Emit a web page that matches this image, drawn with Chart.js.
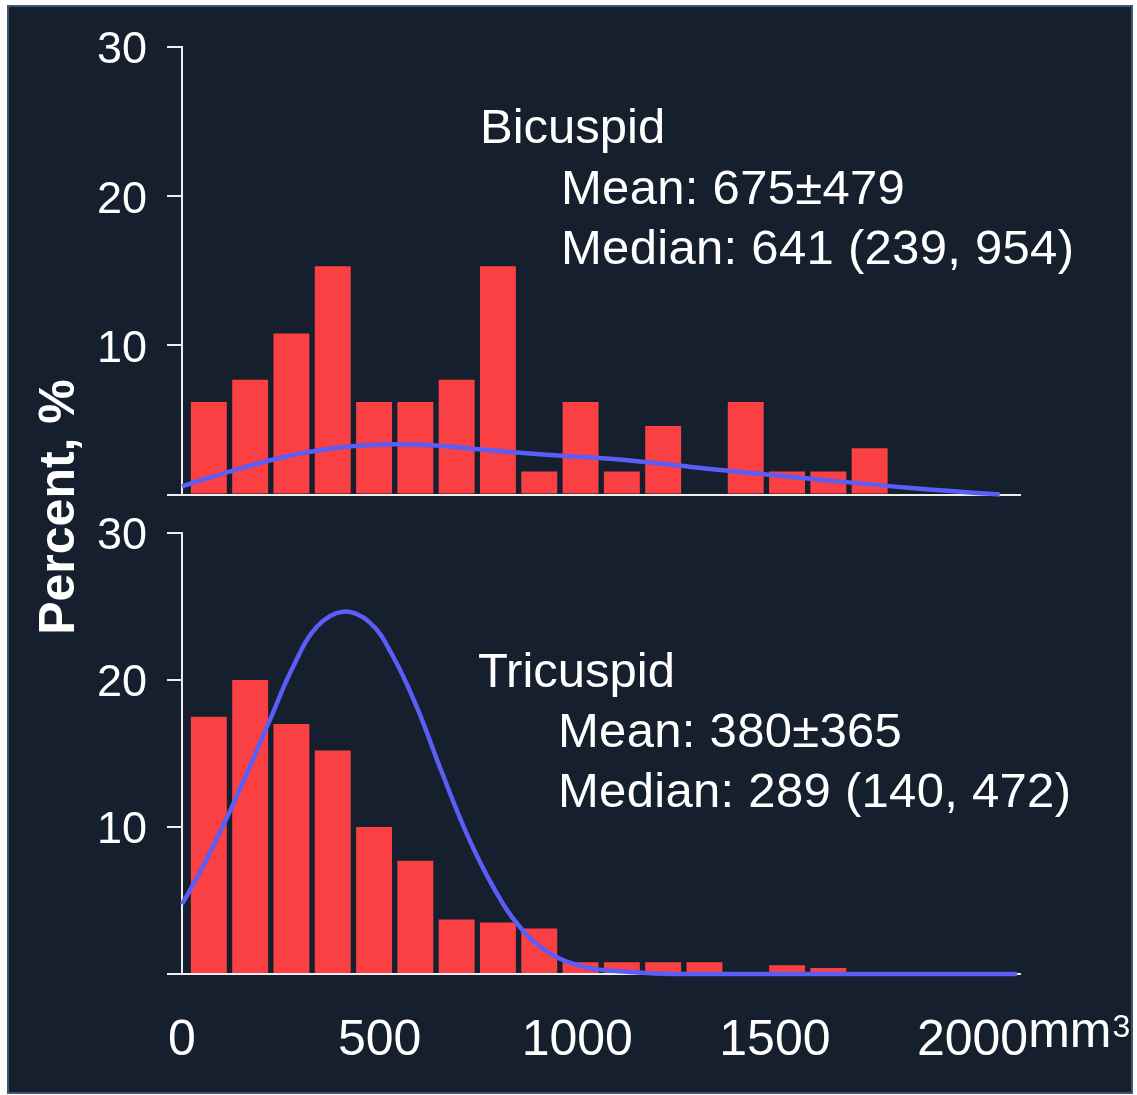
<!DOCTYPE html>
<html>
<head>
<meta charset="utf-8">
<script src="https://cdn.jsdelivr.net/npm/chart.js@4.4.1/dist/chart.umd.min.js"></script>
<style>
body { margin: 0; background: #ffffff; width: 1137px; height: 1095px; overflow: hidden; position: relative; font-family: "Liberation Sans", Arial, sans-serif; }
.frame { position: absolute; left: 7px; top: 5px; width: 1126px; height: 1089px; box-sizing: border-box; background: #151f2e; border: 2px solid #3d5673; }
canvas { position: absolute; left: 0; top: 0; }
.note { position: absolute; color: #ffffff; font-size: 49px; line-height: 49px; white-space: nowrap; }
.note.sub { letter-spacing: 0.3px; }
.ytitle { position: absolute; left: -93px; top: 482px; width: 300px; height: 50px; line-height: 50px; text-align: center; color: #ffffff; font-size: 50px; font-weight: bold; transform: rotate(-90deg); white-space: nowrap; }
</style>
</head>
<body>
<div class="frame"></div>
<canvas id="bottomPanel" width="1137" height="1095"></canvas>
<canvas id="topPanel" width="1137" height="1095"></canvas>

<div class="ytitle">Percent, %</div>

<div class="note" style="left:480px; top:102px">Bicuspid</div>
<div class="note sub" style="left:561px; top:163px">Mean: 675±479</div>
<div class="note sub" style="left:561px; top:223px">Median: 641 (239, 954)</div>

<div class="note" style="left:478px; top:646px">Tricuspid</div>
<div class="note sub" style="left:558px; top:706px">Mean: 380±365</div>
<div class="note sub" style="left:558px; top:766px">Median: 289 (140, 472)</div>

<script>
// histogram bins, mm3 (bin centres, width 100)
const binCenters = [50, 150, 250, 350, 450, 550, 650, 750, 850, 950, 1050, 1150, 1250, 1350, 1450, 1550, 1650, 1750, 1850, 1950]
const bicuspidPct = [6.2, 7.7, 10.8, 15.3, 6.2, 6.2, 7.7, 15.3, 1.55, 6.2, 1.55, 4.6, 0, 6.2, 1.55, 1.55, 3.1, 0, 0, 0]
const tricuspidPct = [17.5, 20.0, 17.0, 15.2, 10.0, 7.7, 3.7, 3.5, 3.1, 0.8, 0.8, 0.8, 0.8, 0, 0.6, 0.4, 0, 0, 0, 0]

// fitted curves
const bicuspidCurveX = [-15, 108, 229, 350, 471, 592, 714, 876, 1003, 1118, 1251, 1500, 1750, 1965]
const bicuspidCurveY = [0.55, 1.6, 2.5, 3.1, 3.35, 3.3, 3.0, 2.65, 2.43, 2.15, 1.75, 1.08, 0.44, 0]
const tricuspidCurveX = [-15, 28, 93, 149, 198, 254, 311, 375, 440, 496, 553, 609, 674, 738, 803, 876, 956, 1013, 1174, 2007]
const tricuspidCurveY = [4.76, 6.9, 10.6, 14.1, 17.3, 20.9, 23.6, 24.65, 23.9, 21.6, 18.2, 14.1, 9.57, 5.94, 3.2, 1.4, 0.5, 0.25, 0, 0]

const yTicks = [0, 10, 20, 30]
const xTicks = [0, 500, 1000, 1500, 2000]

const lineColor = '#eeeeee'
const barColor = '#fa4042'
const curveColor = '#5b5df7'
const xLabelPad = 29

Chart.defaults.font.family = '"Liberation Sans", Arial, sans-serif'
Chart.defaults.color = '#ffffff'

// "mm³" after the last x label
const unitLabel = {
    id: 'unitLabel',
    afterDraw(chart) {
        let s = chart.scales.xl
        if (!s) return;
        let ctx = chart.ctx
        let last = xTicks[xTicks.length - 1]
        let px = s.getPixelForValue(last)
        let y = s.top + xLabelPad + 30
        ctx.save()
        ctx.fillStyle = '#ffffff'
        ctx.font = '50px "Liberation Sans", Arial, sans-serif'
        ctx.textBaseline = 'middle'
        let x0 = px + ctx.measureText(String(last)).width / 2
        ctx.fillText('mm', x0, y)
        let x1 = x0 + ctx.measureText('mm').width
        ctx.font = '32px "Liberation Sans", Arial, sans-serif'
        ctx.textBaseline = 'alphabetic'
        ctx.fillText('3', x1 + 1, y + 4)
        ctx.restore()
    }
}

let makePanel = (id, pct, curveX, curveY, padTop, padBottom, showX) => {
    let scales = {
        x: {
            type: 'linear',
            min: -15,
            max: 2014,
            offset: false,
            afterFit: s => { s.height = 0 },
            ticks: { display: false },
            grid: { display: false, offset: false },
            border: { display: true, color: lineColor, width: 2 }
        },
        y: {
            min: 0,
            max: 30,
            afterFit: s => { s.width = 182 },
            afterBuildTicks: s => { s.ticks = yTicks.map(v => ({ value: v })) },
            ticks: {
                color: '#ffffff',
                font: { size: 45 },
                padding: 20,
                labelOffset: 4,
                callback: v => v === 0 ? '' : String(v)
            },
            grid: { drawOnChartArea: false, drawTicks: true, tickLength: 15, color: lineColor, lineWidth: 2 },
            border: { display: true, color: lineColor, width: 2 }
        }
    }
    if (showX) {
        scales.xl = {
            type: 'linear',
            position: 'bottom',
            weight: 1,
            min: 0,
            max: 2120,
            offset: false,
            afterFit: s => { s.height = 95 },
            afterBuildTicks: s => { s.ticks = xTicks.map(v => ({ value: v })) },
            ticks: { color: '#ffffff', font: { size: 50 }, padding: xLabelPad, autoSkip: false, maxRotation: 0, callback: v => String(v) },
            grid: { display: false, offset: false },
            border: { display: false }
        }
    }
    return new Chart(id, {
        type: 'bar',
        data: {
            datasets: [{
                type: 'line',
                data: curveX.map((x, i) => ({ x: x, y: curveY[i] })),
                borderColor: curveColor,
                borderWidth: 4.5,
                pointRadius: 0,
                tension: 0.4,
                fill: false,
                clip: false,
                order: 1
            }, {
                type: 'bar',
                data: binCenters.map((x, i) => ({ x: x, y: pct[i] })),
                backgroundColor: barColor,
                borderWidth: 0,
                barPercentage: 0.87,
                categoryPercentage: 1,
                order: 2
            }]
        },
        options: {
            responsive: false,
            animation: false,
            devicePixelRatio: 1,
            layout: { padding: { top: padTop, bottom: padBottom, left: 0, right: 117 } },
            plugins: { legend: { display: false }, tooltip: { enabled: false } },
            scales: scales
        },
        plugins: showX ? [unitLabel] : []
    })
}

makePanel('topPanel', bicuspidPct, bicuspidCurveX, bicuspidCurveY, 43, 600.5, false)
makePanel('bottomPanel', tricuspidPct, tricuspidCurveX, tricuspidCurveY, 533, 26, true)
</script>
</body>
</html>
